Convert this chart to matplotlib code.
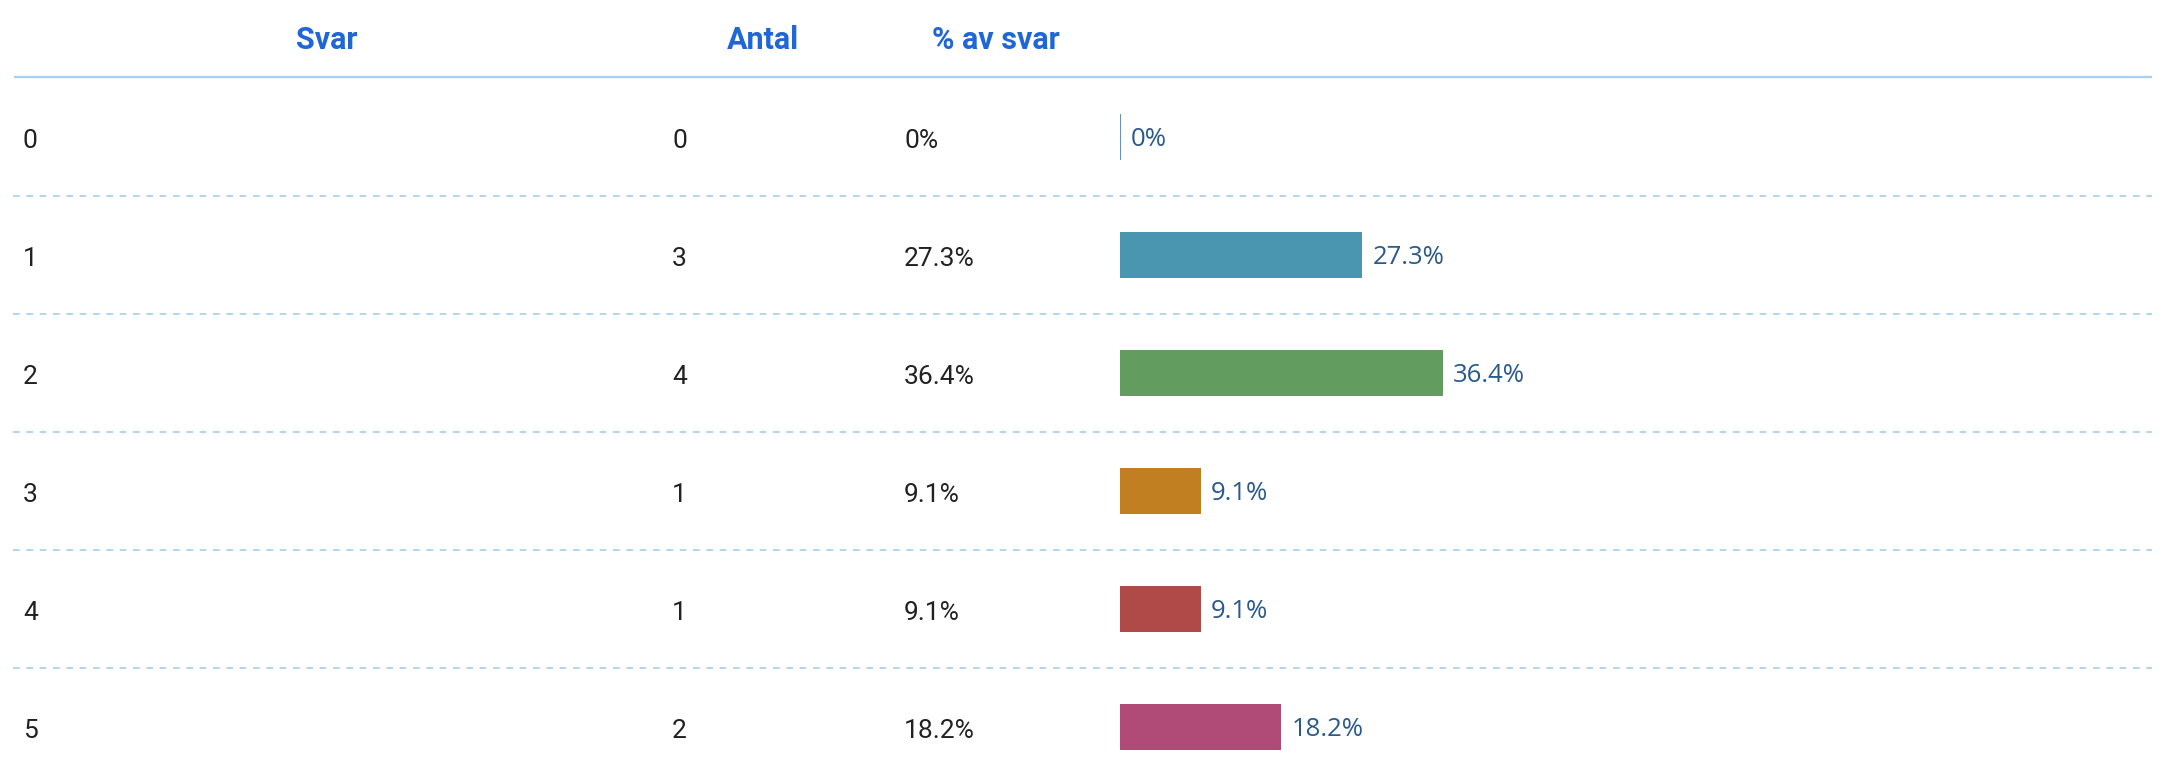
import matplotlib.pyplot as plt

svar = ['0', '1', '2', '3', '4', '5']
antal = [0, 3, 4, 1, 1, 2]
procent = [0, 27.3, 36.4, 9.1, 9.1, 18.2]
pct_labels = ['0%', '27.3%', '36.4%', '9.1%', '9.1%', '18.2%']
headers = ['Svar', 'Antal', '% av svar']
colors = ['#3a6fae', '#4a96b0', '#629c5e', '#c17f22', '#b04a48', '#b04b78']

W, H = 2163, 775
fig = plt.figure(figsize=(W / 100, H / 100), dpi=100)

# row units: rows at 0..5, one row = 118 px, row 0 centre at y=137 px
row_px = 118.0
top = -137 / row_px
bottom = (H - 137) / row_px
txt_dy = 4 / row_px  # text sits a little lower than va='center' puts it

# text / grid axes, x in pixels
ax = fig.add_axes([0, 0, 1, 1])
ax.set_xlim(0, W)
ax.set_ylim(bottom, top)
ax.axis('off')

# bar axes, x in percent
bx = fig.add_axes([1120 / W, 0, 886 / W, 1])
bx.set_xlim(0, 100)
bx.set_ylim(bottom, top)
bx.axis('off')

hdr_y = (40 - 137) / row_px
line_y = (77 - 137) / row_px
for txt, xc in zip(headers, [327, 763, 996]):
    ax.text(xc, hdr_y, txt, ha='center', va='center', fontsize=22,
            fontweight='bold', color='#1f66d6', family='Roboto')
ax.plot([14, 2152], [line_y, line_y], color='#a9cff2', lw=1.6, solid_capstyle='butt')

rows = range(len(svar))
for i in rows:
    ax.text(23, i + txt_dy, svar[i], ha='left', va='center', fontsize=19, color='#222222', family='Roboto')
    ax.text(672, i + txt_dy, str(antal[i]), ha='left', va='center', fontsize=19, color='#222222', family='Roboto')
    ax.text(904, i + txt_dy, pct_labels[i], ha='left', va='center', fontsize=19, color='#222222', family='Roboto')
    if i > 0:
        ax.plot([13, 2152], [i - 0.5, i - 0.5], color='#a3cdf0', lw=1.2, dashes=(4, 4))

bars = bx.barh(list(rows), procent, height=0.39, color=colors, left=0)
for b, p, c in zip(bars, procent, colors):
    if p == 0:
        b.set_edgecolor(c)
        b.set_linewidth(1.1)

for i in rows:
    bx.annotate(pct_labels[i], (procent[i], i + 0.02), xytext=(7.5, 0), textcoords='offset points',
                ha='left', va='center', fontsize=18.5, color='#2a5a8c', family='Open Sans',
                annotation_clip=False)

fig.savefig('out.png', dpi=100)
